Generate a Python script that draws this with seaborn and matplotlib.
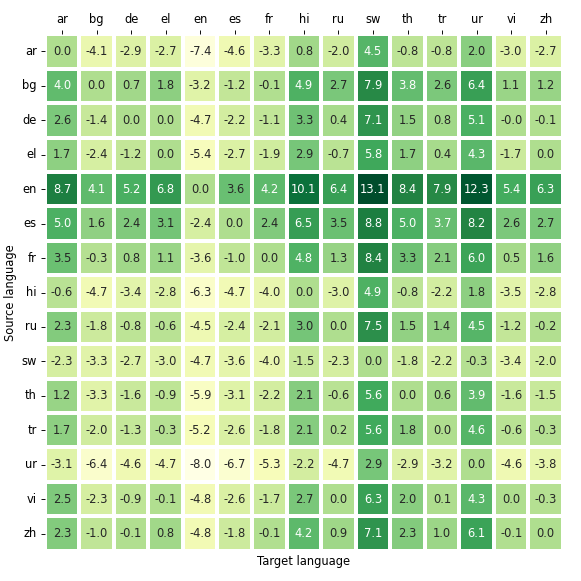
import numpy as np
import pandas as pd
import seaborn as sns
from matplotlib import pyplot

langs = ['ar', 'bg', 'de', 'el', 'en', 'es', 'fr', 'hi', 'ru', 'sw', 'th', 'tr', 'ur', 'vi', 'zh']

row_ar = [0.0, -4.1, -2.9, -2.7, -7.4, -4.6, -3.3, 0.8, -2.0, 4.5, -0.8, -0.8, 2.0, -3.0, -2.7]
row_bg = [4.0, 0.0, 0.7, 1.8, -3.2, -1.2, -0.1, 4.9, 2.7, 7.9, 3.8, 2.6, 6.4, 1.1, 1.2]
row_de = [2.6, -1.4, 0.0, 0.0, -4.7, -2.2, -1.1, 3.3, 0.4, 7.1, 1.5, 0.8, 5.1, -0.0, -0.1]
row_el = [1.7, -2.4, -1.2, 0.0, -5.4, -2.7, -1.9, 2.9, -0.7, 5.8, 1.7, 0.4, 4.3, -1.7, 0.0]
row_en = [8.7, 4.1, 5.2, 6.8, 0.0, 3.6, 4.2, 10.1, 6.4, 13.1, 8.4, 7.9, 12.3, 5.4, 6.3]
row_es = [5.0, 1.6, 2.4, 3.1, -2.4, 0.0, 2.4, 6.5, 3.5, 8.8, 5.0, 3.7, 8.2, 2.6, 2.7]
row_fr = [3.5, -0.3, 0.8, 1.1, -3.6, -1.0, 0.0, 4.8, 1.3, 8.4, 3.3, 2.1, 6.0, 0.5, 1.6]
row_hi = [-0.6, -4.7, -3.4, -2.8, -6.3, -4.7, -4.0, 0.0, -3.0, 4.9, -0.8, -2.2, 1.8, -3.5, -2.8]
row_ru = [2.3, -1.8, -0.8, -0.6, -4.5, -2.4, -2.1, 3.0, 0.0, 7.5, 1.5, 1.4, 4.5, -1.2, -0.2]
row_sw = [-2.3, -3.3, -2.7, -3.0, -4.7, -3.6, -4.0, -1.5, -2.3, 0.0, -1.8, -2.2, -0.3, -3.4, -2.0]
row_th = [1.2, -3.3, -1.6, -0.9, -5.9, -3.1, -2.2, 2.1, -0.6, 5.6, 0.0, 0.6, 3.9, -1.6, -1.5]
row_tr = [1.7, -2.0, -1.3, -0.3, -5.2, -2.6, -1.8, 2.1, 0.2, 5.6, 1.8, 0.0, 4.6, -0.6, -0.3]
row_ur = [-3.1, -6.4, -4.6, -4.7, -8.0, -6.7, -5.3, -2.2, -4.7, 2.9, -2.9, -3.2, 0.0, -4.6, -3.8]
row_vi = [2.5, -2.3, -0.9, -0.1, -4.8, -2.6, -1.7, 2.7, 0.0, 6.3, 2.0, 0.1, 4.3, 0.0, -0.3]
row_zh = [2.3, -1.0, -0.1, 0.8, -4.8, -1.8, -0.1, 4.2, 0.9, 7.1, 2.3, 1.0, 6.1, -0.1, 0.0]

rows = [row_ar, row_bg, row_de, row_el, row_en, row_es, row_fr, row_hi,
        row_ru, row_sw, row_th, row_tr, row_ur, row_vi, row_zh]
df = pd.DataFrame(np.array(rows), index=langs, columns=langs)

fig, ax = pyplot.subplots(figsize=(7, 7), dpi=83)
sns.heatmap(df, cmap='YlGn', annot=True, fmt='.1f', linewidths=2, linecolor='white',
            vmin=-8.0, vmax=13.7, cbar=False, ax=ax)
ax.xaxis.tick_top()
ax.set_xlabel('Target language')
ax.set_ylabel('Source language')
ax.tick_params(axis='y', rotation=0)
ax.tick_params(axis='x', rotation=0)
pyplot.subplots_adjust(left=0.077, right=0.969, top=0.941, bottom=0.052)
pyplot.savefig('out.png')
